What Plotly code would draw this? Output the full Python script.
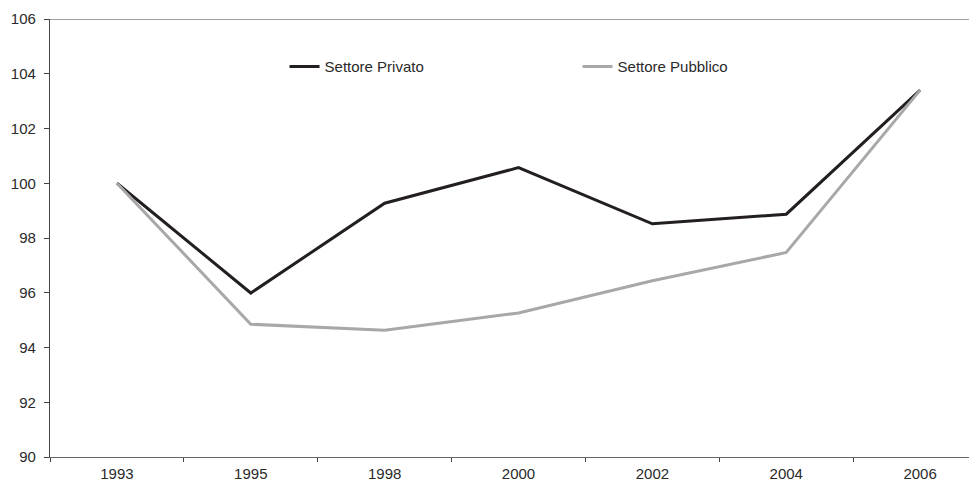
import plotly.graph_objects as go

years = ["1993", "1995", "1998", "2000", "2002", "2004", "2006"]
privato = [100.0, 95.99, 99.27, 100.57, 98.52, 98.87, 103.4]
pubblico = [100.0, 94.85, 94.63, 95.26, 96.44, 97.47, 103.4]
y_ticks = [90, 92, 94, 96, 98, 100, 102, 104, 106]

FONT = "Liberation Sans Narrow, Arial Narrow, Liberation Sans, sans-serif"

fig = go.Figure()
fig.add_trace(go.Scatter(x=years, y=privato, mode="lines", name="Settore Privato",
                         line=dict(color="#231f20", width=3)))
fig.add_trace(go.Scatter(x=years, y=pubblico, mode="lines", name="Settore Pubblico",
                         line=dict(color="#a8a8aa", width=3)))

fig.add_shape(type="line", xref="paper", yref="y", x0=0, x1=1, y0=106, y1=106,
              line=dict(color="#444444", width=1.2), layer="below")

fig.update_layout(
    width=969, height=482,
    margin=dict(l=42, r=0, t=11, b=33, autoexpand=False),
    paper_bgcolor="white", plot_bgcolor="white",
    font=dict(family=FONT, size=15, color="#2a2a2a"),
    showlegend=True,
    legend=dict(orientation="h", x=0.253, y=0.891, xanchor="left", yanchor="middle",
                entrywidth=248, entrywidthmode="pixels", bgcolor="rgba(0,0,0,0)",
                font=dict(family=FONT, size=15, color="#2a2a2a"), traceorder="normal"),
    xaxis=dict(type="category", categoryorder="array", categoryarray=years,
               range=[-0.5, 6.425], showgrid=False, zeroline=False, automargin=False,
               showline=True, linecolor="#666666", linewidth=1.2,
               ticks="outside", tickson="boundaries", ticklen=4, tickcolor="#444444",
               tickwidth=1, ticklabelstandoff=3,
               tickfont=dict(family=FONT, size=15, color="#2a2a2a")),
    yaxis=dict(range=[90, 106], tickvals=y_ticks, showgrid=False, zeroline=False,
               automargin=False,
               showline=True, linecolor="#444444", linewidth=1.2,
               ticks="outside", ticklen=5, tickcolor="#444444", tickwidth=1,
               ticklabelstandoff=5,
               tickfont=dict(family=FONT, size=15, color="#2a2a2a")),
)

fig.write_html("out.html")
